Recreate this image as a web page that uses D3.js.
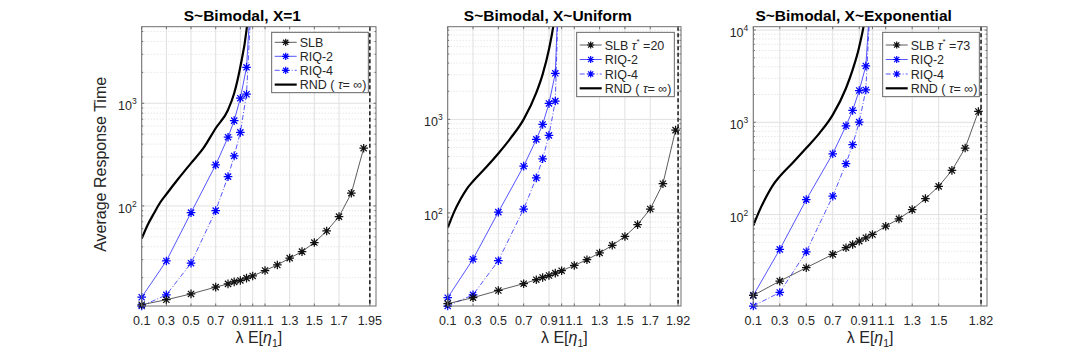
<!DOCTYPE html>
<html>
<head>
<meta charset="utf-8">
<script src="https://cdn.jsdelivr.net/npm/d3@7"></script>
<style>
  body { margin: 0; background: #fff; }
  svg { display: block; }
  text { font-family: "Liberation Sans", Arial, Helvetica, sans-serif; fill: #262626; }
</style>
</head>
<body>
<div id="chart"></div>
<script>
const width = 1090, height = 353;

// ---- data ----
const titles = ["S~Bimodal, X=1", "S~Bimodal, X~Uniform", "S~Bimodal, X~Exponential"];
const tauStar = [null, "20", "73"];
const stabilityLimits = [1.95, 1.92, 1.82];

const xTicksUnit = [0.1, 0.3, 0.5, 0.7, 0.9, 1, 1.1, 1.3, 1.5, 1.7, 1.95];
const xTicksUniform = [0.1, 0.3, 0.5, 0.7, 0.9, 1, 1.1, 1.3, 1.5, 1.7, 1.92];
const xTicksExp = [0.1, 0.3, 0.5, 0.7, 0.9, 1, 1.1, 1.3, 1.5, 1.82];

const xSLB = [0.1, 0.3, 0.5, 0.7, 0.8, 0.85, 0.9, 0.95, 1.0, 1.1, 1.2, 1.3, 1.4, 1.5, 1.6, 1.7, 1.8, 1.9];
const xSLBExp = [0.1, 0.3, 0.5, 0.7, 0.8, 0.85, 0.9, 0.95, 1.0, 1.1, 1.2, 1.3, 1.4, 1.5, 1.6, 1.7, 1.8];
const slbUnit = [10.9, 12.2, 13.9, 16.2, 17.4, 18.2, 18.8, 19.8, 20.8, 23.5, 26.6, 31, 35.9, 44, 57, 78.7, 133, 365];
const slbUniform = [10.7, 12.4, 14.8, 17.5, 19.3, 20.4, 21.4, 22.7, 24.1, 27.4, 31.6, 37.3, 45, 56, 75, 110, 205, 767];
const slbExp = [13.3, 19, 26.5, 37, 43.7, 47.4, 51.5, 56, 60.8, 74.8, 89.8, 113, 149, 202, 301, 526, 1310];

const xRIQ = [0.1, 0.3, 0.5, 0.7, 0.8, 0.85, 0.9, 0.95, 1.0];
const riq2Unit = [12.9, 29.1, 86, 251, 467, 678, 1120, 2240, 22000];
const riq4Unit = [10.6, 13.6, 27.7, 90, 193, 307, 521, 1225, 18000];
const riq2Uniform = [12.4, 32, 102, 316, 611, 883, 1480, 3110, 200000];
const riq4Uniform = [10.1, 13.3, 30.8, 110, 237, 379, 675, 1570, 250000];
const riq2Exp = [13.3, 41.9, 145, 456, 916, 1343, 2210, 4080, 54000];
const riq4Exp = [10.2, 14.3, 39.5, 158, 356, 571, 1005, 2240, 60000];

const xRND = [0.1, 0.15, 0.2, 0.25, 0.3, 0.4, 0.5, 0.6, 0.7, 0.8, 0.85, 0.9, 0.95, 0.97];
const rndUnit = [48, 66, 85, 108, 130, 186, 261, 365, 571, 861, 1250, 2270, 5150, 9000];
const rndUniform = [69, 102, 139, 180, 218, 304, 432, 637, 1000, 1930, 3030, 5620, 14000, 25000];
const rndExp = [76, 113, 158, 210, 259, 367, 526, 764, 1205, 2340, 3700, 6600, 16000, 30000];

// ---- layout ----
const plotTop = 26.7, plotBottom = 306;
const panels = [
  {left: 141.7, right: 376, xDomain: [0.1, 2.0], yDomain: [10.6, 5570], xTicks: xTicksUnit,
   slb: [xSLB, slbUnit], riq2: [xRIQ, riq2Unit], riq4: [xRIQ, riq4Unit], rnd: [xRND, rndUnit],
   legend: {x: 271.7, y: 32.3, w: 96.6, h: 60.4, rows: [42.3, 56.3, 70.3, 84.6]}},
  {left: 447.7, right: 681, xDomain: [0.1, 1.943], yDomain: [10.1, 9800], xTicks: xTicksUniform,
   slb: [xSLB, slbUniform], riq2: [xRIQ, riq2Uniform], riq4: [xRIQ, riq4Uniform], rnd: [xRND, rndUniform],
   legend: {x: 576.7, y: 32.3, w: 97.6, h: 64.4, rows: [45, 59.5, 74, 88.3]}},
  {left: 753.3, right: 987, xDomain: [0.1, 1.865], yDomain: [10.2, 10870], xTicks: xTicksExp,
   slb: [xSLBExp, slbExp], riq2: [xRIQ, riq2Exp], riq4: [xRIQ, riq4Exp], rnd: [xRND, rndExp],
   legend: {x: 882.7, y: 32.3, w: 96.6, h: 64.4, rows: [45, 59.5, 74, 88.3]}}
];

const svg = d3.select("#chart").append("svg")
    .attr("width", width)
    .attr("height", height);

// asterisk marker like the MATLAB '*'
function asterisk(r) {
    const d = r * 0.72;
    return `M${-r},0L${r},0M0,${-r}L0,${r}M${-d},${-d}L${d},${d}M${-d},${d}L${d},${-d}`;
}

function drawPanel(p, i) {
    const x = d3.scaleLinear().domain(p.xDomain).range([p.left, p.right]);
    const y = d3.scaleLog().domain(p.yDomain).range([plotBottom, plotTop]);
    const g = svg.append("g");

    const clipId = "clip" + i;
    svg.append("clipPath").attr("id", clipId)
        .append("rect")
        .attr("x", p.left).attr("y", plotTop)
        .attr("width", p.right - p.left).attr("height", plotBottom - plotTop);

    // grid: minor (dotted) then major
    const allY = y.ticks().filter(v => v >= p.yDomain[0] && v <= p.yDomain[1]);
    const isMajor = v => Math.abs(Math.log10(v) - Math.round(Math.log10(v))) < 1e-9;
    g.selectAll(".ygrid-minor").data(allY.filter(v => !isMajor(v)))
        .join("line")
        .attr("x1", p.left).attr("x2", p.right)
        .attr("y1", d => y(d)).attr("y2", d => y(d))
        .attr("stroke", "#cfcfcf").attr("stroke-width", 0.7)
        .attr("stroke-dasharray", "1,2");
    g.selectAll(".ygrid").data(allY.filter(isMajor))
        .join("line")
        .attr("x1", p.left).attr("x2", p.right)
        .attr("y1", d => y(d)).attr("y2", d => y(d))
        .attr("stroke", "#e0e0e0").attr("stroke-width", 1);
    g.selectAll(".xgrid").data(p.xTicks)
        .join("line")
        .attr("x1", d => x(d)).attr("x2", d => x(d))
        .attr("y1", plotTop).attr("y2", plotBottom)
        .attr("stroke", "#e0e0e0").attr("stroke-width", 1);

    // stability limit (dashed vertical)
    const lim = stabilityLimits[i];
    g.append("line")
        .attr("x1", x(lim)).attr("x2", x(lim))
        .attr("y1", plotTop).attr("y2", plotBottom)
        .attr("stroke", "#222").attr("stroke-width", 1.6)
        .attr("stroke-dasharray", "4,2.5");

    const line = d3.line().x(d => x(d[0])).y(d => y(d[1]));
    const smooth = d3.line().x(d => x(d[0])).y(d => y(d[1])).curve(d3.curveMonotoneX);
    const zip = s => s[0].map((v, k) => [v, s[1][k]]);

    const series = [
        {pts: zip(p.rnd), color: "#000", w: 2.2, dash: null, marker: false, gen: smooth},
        {pts: zip(p.riq4), color: "#2a2aff", w: 0.8, dash: "5,2,1,2", marker: true, gen: line},
        {pts: zip(p.riq2), color: "#2a2aff", w: 0.8, dash: null, marker: true, gen: line},
        {pts: zip(p.slb), color: "#333", w: 0.8, dash: null, marker: true, gen: line}
    ];

    series.forEach(s => {
        g.append("path")
            .attr("clip-path", `url(#${clipId})`)
            .attr("d", s.gen(s.pts))
            .attr("fill", "none")
            .attr("stroke", s.color)
            .attr("stroke-width", s.w)
            .attr("stroke-dasharray", s.dash);
        if (s.marker) {
            g.selectAll(null)
                .data(s.pts.filter(d => d[1] <= p.yDomain[1]))
                .join("path")
                .attr("transform", d => `translate(${x(d[0])},${y(d[1])})`)
                .attr("d", asterisk(4.3))
                .attr("fill", "none")
                .attr("stroke", s.color === "#333" ? "#111" : "#0000ff")
                .attr("stroke-width", 1.25);
        }
    });

    // frame
    g.append("rect")
        .attr("x", p.left).attr("y", plotTop)
        .attr("width", p.right - p.left).attr("height", plotBottom - plotTop)
        .attr("fill", "none").attr("stroke", "#6e6e6e").attr("stroke-width", 1);

    // ticks (inward)
    p.xTicks.forEach(t => {
        g.append("line").attr("x1", x(t)).attr("x2", x(t))
            .attr("y1", plotBottom).attr("y2", plotBottom - 2.5)
            .attr("stroke", "#6e6e6e");
        g.append("line").attr("x1", x(t)).attr("x2", x(t))
            .attr("y1", plotTop).attr("y2", plotTop + 2.5)
            .attr("stroke", "#6e6e6e");
    });
    allY.forEach(v => {
        const len = isMajor(v) ? 2.5 : 1.5;
        g.append("line").attr("x1", p.left).attr("x2", p.left + len)
            .attr("y1", y(v)).attr("y2", y(v)).attr("stroke", "#6e6e6e");
        g.append("line").attr("x1", p.right).attr("x2", p.right - len)
            .attr("y1", y(v)).attr("y2", y(v)).attr("stroke", "#6e6e6e");
    });

    // x tick labels
    g.selectAll(".xlab").data(p.xTicks)
        .join("text")
        .attr("x", d => x(d))
        .attr("y", 324.5)
        .attr("text-anchor", "middle")
        .attr("font-size", 12.5)
        .text(d => String(d));

    // y tick labels 10^n
    allY.filter(isMajor).forEach(v => {
        const t = g.append("text")
            .attr("x", p.left - 5)
            .attr("y", y(v) + 7)
            .attr("text-anchor", "end")
            .attr("font-size", 12.5);
        t.append("tspan").text("10");
        t.append("tspan").attr("font-size", 8.5).attr("dy", -6)
            .text(Math.round(Math.log10(v)));
    });

    // x label
    const xl = g.append("text")
        .attr("x", (p.left + p.right) / 2)
        .attr("y", 343)
        .attr("text-anchor", "middle")
        .attr("font-size", 16);
    xl.append("tspan").text("\u03BB E[");
    xl.append("tspan").attr("font-style", "italic").text("\u03B7");
    xl.append("tspan").attr("font-size", 10.5).attr("dy", 4).text("1");
    xl.append("tspan").attr("dy", -4).text("]");

    // title
    g.append("text")
        .attr("x", (p.left + p.right) / 2 - 16.5)
        .attr("y", 20.5)
        .attr("text-anchor", "middle")
        .attr("font-size", 15.5)
        .attr("font-weight", "bold")
        .style("fill", "#000")
        .text(titles[i]);

    // legend
    const L = p.legend;
    g.append("rect")
        .attr("x", L.x).attr("y", L.y).attr("width", L.w).attr("height", L.h)
        .attr("fill", "#fff").attr("stroke", "#555").attr("stroke-width", 0.9);
    const entries = [
        {color: "#333", w: 0.8, dash: null, marker: true, mcolor: "#111"},
        {color: "#2a2aff", w: 0.8, dash: null, marker: true, mcolor: "#0000ff"},
        {color: "#2a2aff", w: 0.8, dash: "5,2,1,2", marker: true, mcolor: "#0000ff"},
        {color: "#000", w: 2.2, dash: null, marker: false}
    ];
    entries.forEach((e, k) => {
        const ry = L.rows[k];
        g.append("line")
            .attr("x1", L.x + 3).attr("x2", L.x + 25)
            .attr("y1", ry).attr("y2", ry)
            .attr("stroke", e.color).attr("stroke-width", e.w)
            .attr("stroke-dasharray", e.dash);
        if (e.marker) {
            g.append("path")
                .attr("transform", `translate(${L.x + 14},${ry})`)
                .attr("d", asterisk(3.6))
                .attr("fill", "none").attr("stroke", e.mcolor).attr("stroke-width", 1.2);
        }
        const t = g.append("text")
            .attr("x", L.x + 28).attr("y", ry + 4.5)
            .attr("font-size", 12.5);
        if (k === 0) {
            t.append("tspan").text("SLB");
            if (tauStar[i]) {
                t.append("tspan").attr("font-style", "italic").text(" \u03C4");
                t.append("tspan").attr("font-size", 8).attr("dy", -6).text("*");
                t.append("tspan").attr("dy", 6).text(" =" + tauStar[i]);
            }
        } else if (k === 1) {
            t.text("RIQ-2");
        } else if (k === 2) {
            t.text("RIQ-4");
        } else {
            t.append("tspan").text("RND ( ");
            t.append("tspan").attr("font-style", "italic").text("\u03C4");
            t.append("tspan").text("= \u221E)");
        }
    });
}

panels.forEach(drawPanel);

// y axis label (first panel only)
svg.append("text")
    .attr("transform", `translate(106,${(plotTop + plotBottom) / 2 - 2}) rotate(-90)`)
    .attr("text-anchor", "middle")
    .attr("font-size", 16)
    .text("Average Response Time");
</script>
</body>
</html>
